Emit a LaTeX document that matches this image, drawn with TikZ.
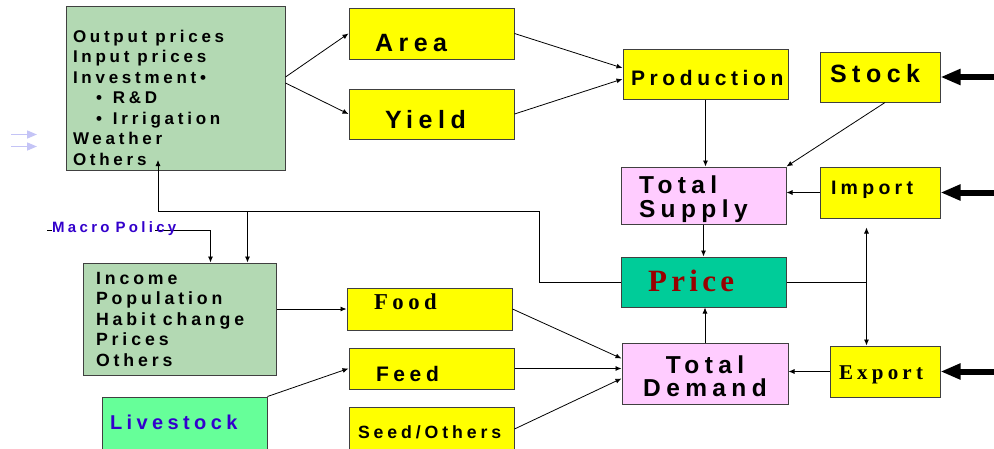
\documentclass[tikz,border=0pt]{standalone}
\usepackage{fontspec}
\setmainfont{Liberation Sans}
\newfontfamily\spsans[LetterSpace=22]{Liberation Sans}
\newfontfamily\spserif[LetterSpace=20]{Liberation Serif}
\newfontfamily\spprice[LetterSpace=14]{Liberation Serif}
\usetikzlibrary{arrows.meta, calc}
\definecolor{cropsage}{HTML}{B3D9B3}
\definecolor{cropyellow}{HTML}{FFFF00}
\definecolor{croppink}{HTML}{FFCCFF}
\definecolor{cropteal}{HTML}{00CC99}
\definecolor{croplime}{HTML}{66FF99}
\definecolor{cropblue}{HTML}{3300CC}
\definecolor{cropred}{HTML}{990000}
\definecolor{croplilac}{HTML}{C4C4F6}
\definecolor{cropedge}{HTML}{404040}

\begin{document}
\begin{tikzpicture}[
    x=1pt, y=-1pt,
    box/.style={draw=cropedge, line width=1pt, inner ysep=0pt, align=left},
    sans/.style 2 args={font=\spsans\bfseries\fontsize{#1}{#2}\selectfont},
    serif/.style={font=\spserif\bfseries\fontsize{#1}{#1}\selectfont},
    arr/.style={-{Latex[length=6pt,width=5pt]}, line width=0.8pt},
    arrboth/.style={{Latex[length=6pt,width=5pt]}-{Latex[length=6pt,width=5pt]}, line width=0.8pt},
    fat/.style={-{Triangle[length=20pt,width=15pt]}, line width=6pt},
    faint/.style={-{Triangle[length=10pt,width=8pt]}, croplilac, line width=1.5pt},
  ]
  \useasboundingbox (0,0) rectangle (994,448);

  % supply side
  \node[box, fill=cropsage, sans={17}{20.5}, text width=205pt, inner xsep=7pt,
        text height=36pt, text depth=128pt] (factors) at (175.5,88)
        {Output\hspace{8pt}prices\\Input\hspace{8pt}prices\\Investment•\\
         \hspace*{23pt}•\hspace{11pt}R\&D\\\hspace*{23pt}•\hspace{11pt}Irrigation\\
         Weather\\Others};
  \node[box, fill=cropyellow, sans={25}{30}, text width=113pt, inner xsep=26pt,
        text height=43pt, text depth=8pt] (area) at (431.5,33.5) {Area};
  \node[box, fill=cropyellow, sans={25}{30}, text width=93pt, inner xsep=36pt,
        text height=39pt, text depth=11pt] (yield) at (431.5,114) {Yield};
  \node[box, fill=cropyellow, sans={21}{25}, text width=149pt, inner xsep=8pt,
        text height=36pt, text depth=14pt] (production) at (705.5,74) {Production};
  \node[box, fill=cropyellow, sans={25}{30}, text width=100pt, inner xsep=10pt,
        text height=30.7pt, text depth=19.3pt] (stock) at (880,77) {Stock};
  \node[box, fill=croppink, sans={24.5}{24}, text width=129pt, inner xsep=18pt,
        text height=26pt, text depth=31pt] (supply) at (703.5,195.5) {Total\\Supply};
  \node[box, fill=cropyellow, sans={19.5}{24}, text width=98pt, inner xsep=11pt,
        text height=27pt, text depth=24pt] (import) at (880,192.5) {Import};

  % price and demand side
  \node[box, fill=cropteal, text=cropred, font=\spprice\bfseries\fontsize{31}{31}\selectfont,
        text width=111pt, inner xsep=27pt, text height=34.7pt, text depth=15.3pt]
        (price) at (703.5,282) {Price};
  \node[box, fill=croppink, sans={24.5}{23.5}, align=center, text width=160pt, inner xsep=3pt,
        text height=30pt, text depth=31pt] (demand) at (705,373.5) {Total\\Demand};
  \node[box, fill=cropyellow, serif=21, text width=92pt, inner xsep=9pt,
        text height=33pt, text depth=18pt] (export) at (885,371.5) {Export};
  \node[box, fill=cropsage, sans={17.7}{20.5}, text width=167pt, inner xsep=13pt,
        text height=21pt, text depth=91pt] (income) at (179.5,319)
        {Income\\Population\\Habit\hspace{7pt}change\\Prices\\Others};
  \node[box, fill=cropyellow, serif=22.7, text width=111pt, inner xsep=27pt,
        text height=21.3pt, text depth=20.7pt] (food) at (429.5,309) {Food};
  \node[box, fill=cropyellow, sans={21}{25}, text width=111pt, inner xsep=27pt,
        text height=33.7pt, text depth=7.3pt] (feed) at (431.5,368.5) {Feed};
  \node[box, fill=cropyellow, sans={17.7}{21}, text width=147pt, inner xsep=9pt,
        text height=31.3pt, text depth=12.7pt] (seed) at (431.5,429) {Seed/Others};
  \node[box, fill=croplime, text=cropblue, sans={20}{24}, text width=149pt, inner xsep=8pt,
        text height=32pt, text depth=26pt] (livestock) at (184.5,426) {Livestock};

  % free ends and bends
  \coordinate (mp-start) at (47,230);
  \coordinate (mp-end) at ($(income.north west)+(128,0)$);
  \coordinate (dem-end) at ($(income.north west)+(165,0)$);
  \coordinate (loop) at (539,211);
  \coordinate (others-tip) at (158,160);
  \coordinate (imp-tip) at ($(import.south west)+(47,9)$);
  \coordinate (exp-in) at ($(export.north west)+(37,0)$);
  \coordinate (stock-feed) at (994,77);
  \coordinate (import-feed) at (994,192.5);
  \coordinate (export-feed) at (994,371.5);
  \coordinate (hint-a) at (11,134.5);
  \coordinate (hint-a-end) at (37,134.5);
  \coordinate (hint-b) at (11,146.5);
  \coordinate (hint-b-end) at (37,146.5);

  \draw[arr] (mp-start) -| (mp-end);
  \node[anchor=base west, fill=white, inner sep=0pt, text width=103pt, text=cropblue,
        sans={15}{18}] (macro) at (52,232) {\mbox{Macro\hspace{6pt}Policy}};

  \draw[arr] ($(factors.east)+(0,-11)$) -- (area.west);
  \draw[arr] ($(factors.east)+(0,-5)$) -- (yield.west);
  \draw[arr] (area.east) -- ($(production.west)+(0,-6)$);
  \draw[arr] (yield.east) -- ($(production.west)+(0,5)$);
  \draw[arr] (production.south) -- (production.south |- supply.north);
  \draw[arr] ($(stock.south)+(5,0)$) -- (supply.north east);
  \draw[arr] (import.west) -- (import.west -| supply.east);
  \draw[arr] (supply.south) -- (price.north);
  \draw[arr] (demand.north) -- (demand.north |- price.south);
  \draw[arr] (export.west) -- (export.west -| demand.east);
  \draw[arr] (food.east) -- ($(demand.west)+(0,-15)$);
  \draw[arr] (feed.east) -- (feed.east -| demand.west);
  \draw[arr] (seed.east) -- ($(demand.west)+(0,5)$);
  \draw[arr] (livestock.north east) -- (feed.west);
  \draw[arr] (food.west -| income.east) -- (food.west);
  \draw[arr] (price.west) -| (loop) -| (others-tip);
  \draw[arr] (dem-end |- loop) -- (dem-end);
  \draw[arrboth] (imp-tip) -- (exp-in);
  \draw (price.east) -- (price.east -| exp-in);

  \draw[fat] (stock-feed) -- (stock.east);
  \draw[fat] (import-feed) -- (import.east);
  \draw[fat] (export-feed) -- (export.east);
  \draw[faint] (hint-a) -- (hint-a-end);
  \draw[faint] (hint-b) -- (hint-b-end);
\end{tikzpicture}
\end{document}
